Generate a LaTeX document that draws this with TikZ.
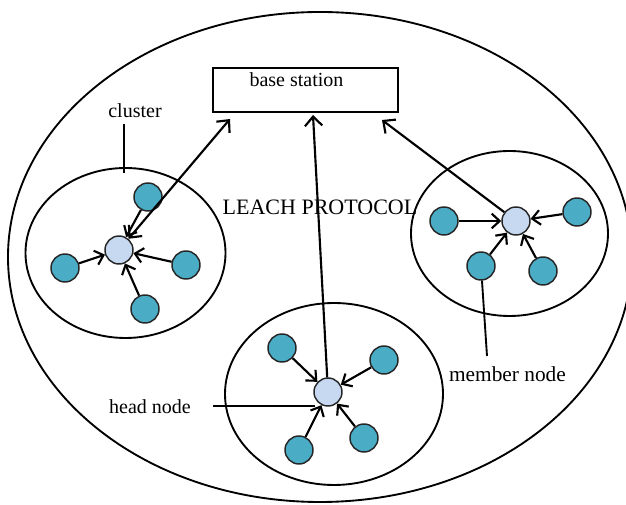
\documentclass[tikz,border=0pt]{standalone}
\usepackage{fontspec}
\setmainfont{Liberation Serif}
\usetikzlibrary{arrows.meta,shapes.geometric}
\definecolor{memfill}{HTML}{4BACC6}
\definecolor{headfill}{HTML}{C6D9F1}
\tikzset{
  member/.style={circle,draw=black!85,line width=1.1pt,fill=memfill,minimum size=21pt,inner sep=0pt},
  head/.style={circle,draw=black!85,line width=1.1pt,fill=headfill,minimum size=21pt,inner sep=0pt},
  clusterell/.style={ellipse,draw,line width=1.4pt,inner sep=0pt},
  conn/.style={line width=1.6pt,-{Straight Barb[length=6pt,width=11pt,line width=1.6pt]}},
  link/.style={line width=1.6pt,-{Straight Barb[length=7pt,width=13pt,line width=1.6pt]}},
  dlink/.style={line width=1.6pt,{Straight Barb[length=7pt,width=13pt,line width=1.6pt]}-{Straight Barb[length=7pt,width=13pt,line width=1.6pt]}},
  pointer/.style={line width=1.4pt},
  lbl/.style={font=\fontsize{15}{18}\selectfont,inner sep=0pt}
}
\begin{document}
\begin{tikzpicture}[x=0.75pt,y=-0.75pt]
\useasboundingbox (0,0) rectangle (626,505);
% outer ellipse
\node[clusterell,minimum width=468pt,minimum height=367.5pt] (outer) at (320,257) {};
% base station
\node[draw,line width=1.5pt,minimum width=138.75pt,minimum height=33pt,inner sep=0pt] (bs) at (305.5,90) {};
\node[lbl] (bstext) at (296.5,80) {base station};
\coordinate (bsL) at (230,119);
\coordinate (bsM) at (313,115);
\coordinate (bsR) at (382,120);
% clusters
\node[clusterell,minimum width=150pt,minimum height=127.5pt] (cL) at (125.5,253) {};
\node[clusterell,minimum width=147.75pt,minimum height=123.75pt] (cR) at (509.5,233.5) {};
\node[clusterell,minimum width=163.5pt,minimum height=136.5pt] (cB) at (334,394) {};
% left cluster nodes
\node[head] (hL) at (119,250) {};
\node[member] (mL1) at (148,197) {};
\node[member] (mL2) at (65,268) {};
\node[member] (mL3) at (186,265) {};
\node[member] (mL4) at (145,309) {};
% right cluster nodes
\node[head] (hR) at (516,221) {};
\node[member] (mR1) at (444,221) {};
\node[member] (mR2) at (577,212) {};
\node[member] (mR3) at (481,266) {};
\node[member] (mR4) at (543,271) {};
% bottom cluster nodes
\node[head] (hB) at (328,392) {};
\node[member] (mB1) at (282,348) {};
\node[member] (mB2) at (384,360) {};
\node[member] (mB3) at (299,450) {};
\node[member] (mB4) at (364,438) {};
% member arrows
\foreach \m in {mL1,mL2,mL3,mL4} \draw[conn] (\m) -- (hL);
\foreach \m in {mR1,mR2,mR3,mR4} \draw[conn] (\m) -- (hR);
\foreach \m in {mB1,mB2,mB3,mB4} \draw[conn] (\m) -- (hB);
% head to base station
\draw[dlink] (hL) -- (bsL);
\draw[link] (hB) -- (bsM);
\draw[link] (hR) -- (bsR);
% title
\node[font=\fontsize{16.5}{20}\selectfont,inner sep=0pt] (title) at (320,207) {LEACH PROTOCOL};
% labels
\node[lbl] (clbl) at (135,111) {cluster};
\coordinate (cTop) at (124,173);
\draw[pointer] (124,124) -- (cTop);
\node[lbl] (hlbl) at (150,407) {head node};
\coordinate (hEnd) at (315,406);
\draw[pointer] (213,406) -- (hEnd);
\node[font=\fontsize{16}{19}\selectfont,inner sep=0pt] (mlbl) at (507.5,374) {member node};
\coordinate (mEnd) at (487,356);
\draw[pointer] (mR3) -- (mEnd);
\end{tikzpicture}
\end{document}
